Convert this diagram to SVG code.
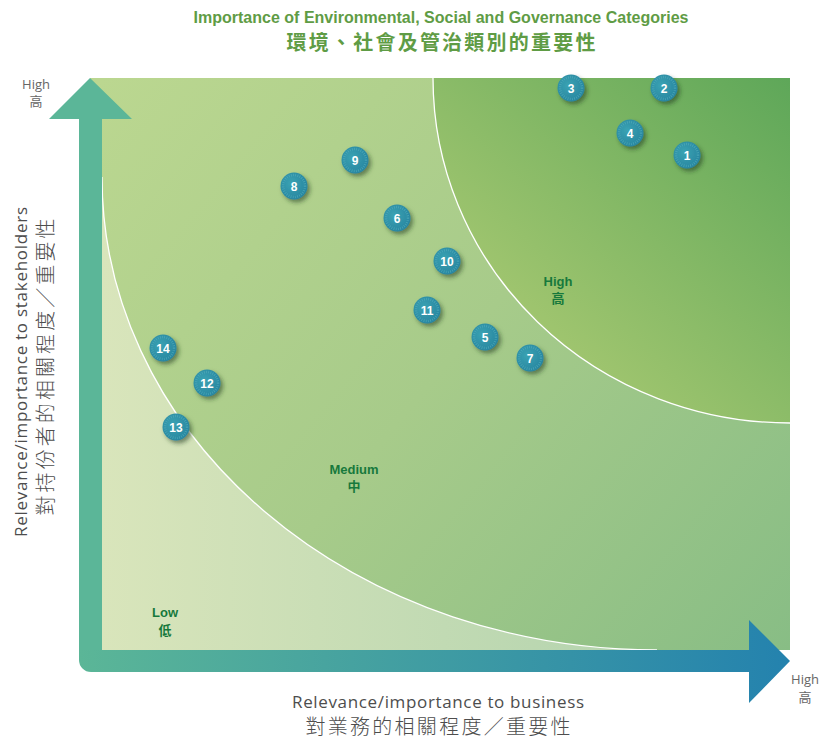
<svg xmlns="http://www.w3.org/2000/svg" width="822" height="740" viewBox="0 0 822 740">
<defs>
<linearGradient id="gMed" gradientUnits="userSpaceOnUse" x1="100" y1="80" x2="790" y2="650">
<stop offset="0" stop-color="#bbd790"/>
<stop offset="0.5" stop-color="#a7cb8a"/>
<stop offset="1" stop-color="#88bd85"/>
</linearGradient>
<linearGradient id="gHigh" gradientUnits="userSpaceOnUse" x1="790" y1="78" x2="500" y2="390">
<stop offset="0" stop-color="#5ea759"/>
<stop offset="1" stop-color="#adcb73"/>
</linearGradient>
<linearGradient id="gLow" gradientUnits="userSpaceOnUse" x1="102" y1="0" x2="660" y2="0">
<stop offset="0" stop-color="#d9e5bb"/>
<stop offset="1" stop-color="#b2d3ae"/>
</linearGradient>
<linearGradient id="gArrowH" gradientUnits="userSpaceOnUse" x1="79" y1="0" x2="790" y2="0">
<stop offset="0" stop-color="#5bb697"/>
<stop offset="1" stop-color="#2482ae"/>
</linearGradient>
<radialGradient id="gBub" cx="0.4" cy="0.4" r="0.65">
<stop offset="0" stop-color="#3aa3b3"/>
<stop offset="1" stop-color="#27849f"/>
</radialGradient>
<filter id="shadow" x="-50%" y="-50%" width="200%" height="200%">
<feDropShadow dx="2.5" dy="3" stdDeviation="2" flood-color="#1c3a20" flood-opacity="0.55"/>
</filter>
<g id="bubble">
<circle r="13.5" fill="url(#gBub)" filter="url(#shadow)"/>
<circle r="11" fill="none" stroke="#5fb8c2" stroke-width="2.5" stroke-dasharray="0.8 1.4" opacity="0.55"/>
</g>
</defs>
<style>
.title{font-family:"Liberation Sans",Arial,sans-serif;font-weight:bold;fill:#5f9c45}
.titlezh{font-family:"Noto Sans CJK TC","Noto Sans CJK SC",sans-serif;font-weight:bold;fill:#5f9c45}
.axis{font-family:"Open Sans","Noto Sans CJK TC",sans-serif;fill:#4d4d4d}
.axiszh{font-family:"Noto Sans CJK TC","Noto Sans CJK SC",sans-serif;font-weight:300;fill:#4d4d4d}
.small{font-family:"Open Sans","Noto Sans CJK TC",sans-serif;font-size:13px;fill:#666}
.zone{font-family:"Liberation Sans","Noto Sans CJK TC",sans-serif;font-weight:bold;font-size:13px;fill:#17793c;text-anchor:middle}
.num{font-family:"Liberation Sans",Arial,sans-serif;font-weight:bold;font-size:12px;fill:#ffffff;text-anchor:middle}
.edge{fill:none;stroke:#ffffff;stroke-width:1.3}
</style>

<g id="title">
<text class="title" x="441" y="23" font-size="17" text-anchor="middle" textLength="495" lengthAdjust="spacingAndGlyphs">Importance of Environmental, Social and Governance Categories</text>
<text class="titlezh" x="441" y="50" font-size="20" text-anchor="middle" textLength="309" lengthAdjust="spacing">環境、社會及管治類別的重要性</text>
</g>

<g id="plot">
<rect x="90" y="78" width="700" height="572" fill="url(#gMed)"/>
<path d="M433,78 A357,345 0 0 0 790,423 L790,78 Z" fill="url(#gHigh)"/>
<path d="M433,78 A357,345 0 0 0 790,423" class="edge"/>
<path d="M102,177 A555,473 0 0 0 657,650 L102,650 Z" fill="url(#gLow)"/>
<path d="M102,177 A555,473 0 0 0 657,650" class="edge"/>
</g>

<g id="axes">
<path d="M49,119 L90,78 L132,119 L102,119 L102,660 L79,660 L79,119 Z" fill="#5bb698"/>
<path d="M79,650 L749,650 L749,620 L790,661 L749,703 L749,672 L91,672 A12,12 0 0 1 79,660 Z" fill="url(#gArrowH)"/>
</g>

<g id="axis-labels">
<text class="small" x="36" y="89" text-anchor="middle">High</text>
<text class="small" x="36" y="106" text-anchor="middle">高</text>
<text class="small" x="805" y="684" text-anchor="middle">High</text>
<text class="small" x="805" y="702" text-anchor="middle">高</text>
<text class="axis" x="438" y="708" font-size="17" text-anchor="middle" textLength="292" lengthAdjust="spacing">Relevance/importance to business</text>
<text class="axiszh" x="438" y="734" font-size="20" text-anchor="middle" textLength="265" lengthAdjust="spacing">對業務的相關程度／重要性</text>
<text class="axis" transform="translate(27,372) rotate(-90)" font-size="17" text-anchor="middle" textLength="330" lengthAdjust="spacing">Relevance/importance to stakeholders</text>
<text class="axiszh" transform="translate(53,367) rotate(-90)" font-size="20" text-anchor="middle" textLength="297" lengthAdjust="spacing">對持份者的相關程度／重要性</text>
</g>

<g id="zones">
<text class="zone" x="558" y="286">High</text>
<text class="zone" x="558" y="303">高</text>
<text class="zone" x="354" y="474">Medium</text>
<text class="zone" x="354" y="491">中</text>
<text class="zone" x="165" y="617">Low</text>
<text class="zone" x="165" y="635">低</text>
</g>

<g id="connectors"></g>

<g id="node-1" transform="translate(687,155)"><use href="#bubble"/><text class="num" y="4.5">1</text></g>
<g id="node-2" transform="translate(664,88)"><use href="#bubble"/><text class="num" y="4.5">2</text></g>
<g id="node-3" transform="translate(571,88)"><use href="#bubble"/><text class="num" y="4.5">3</text></g>
<g id="node-4" transform="translate(630,133)"><use href="#bubble"/><text class="num" y="4.5">4</text></g>
<g id="node-5" transform="translate(485,337)"><use href="#bubble"/><text class="num" y="4.5">5</text></g>
<g id="node-6" transform="translate(397,218)"><use href="#bubble"/><text class="num" y="4.5">6</text></g>
<g id="node-7" transform="translate(530,358)"><use href="#bubble"/><text class="num" y="4.5">7</text></g>
<g id="node-8" transform="translate(294,186)"><use href="#bubble"/><text class="num" y="4.5">8</text></g>
<g id="node-9" transform="translate(355,160)"><use href="#bubble"/><text class="num" y="4.5">9</text></g>
<g id="node-10" transform="translate(447,261)"><use href="#bubble"/><text class="num" y="4.5">10</text></g>
<g id="node-11" transform="translate(427,310)"><use href="#bubble"/><text class="num" y="4.5">11</text></g>
<g id="node-12" transform="translate(207,383)"><use href="#bubble"/><text class="num" y="4.5">12</text></g>
<g id="node-13" transform="translate(176,427)"><use href="#bubble"/><text class="num" y="4.5">13</text></g>
<g id="node-14" transform="translate(163,348)"><use href="#bubble"/><text class="num" y="4.5">14</text></g>
</svg>
